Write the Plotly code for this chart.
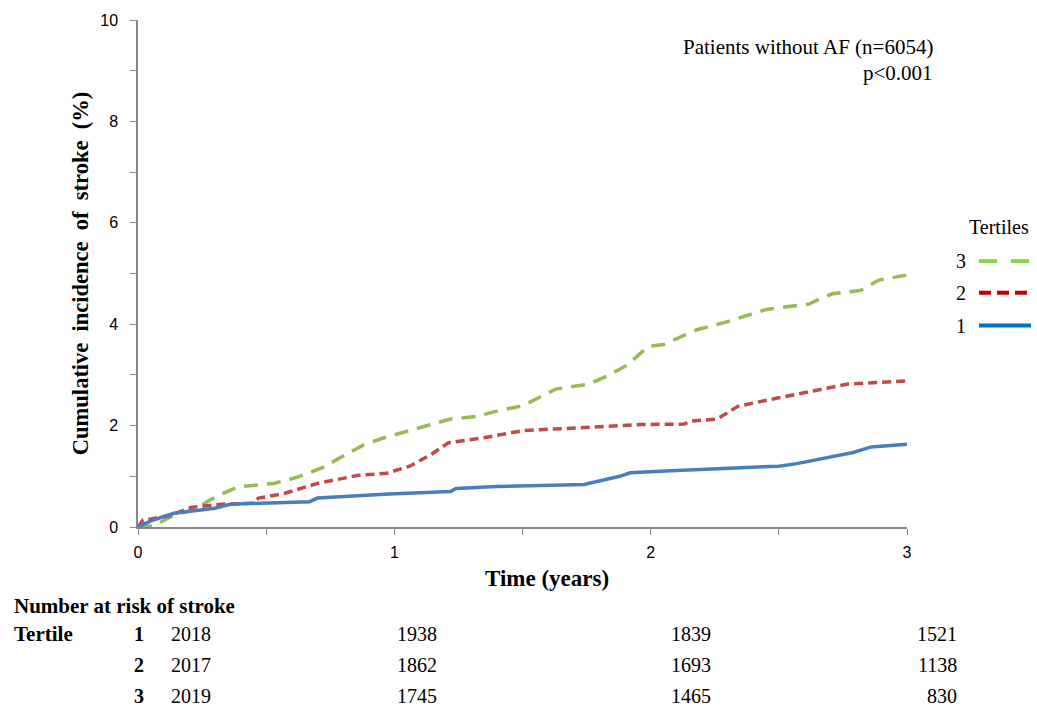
import plotly.graph_objects as go

# ---- data ----
t_t1 = [0, 0.05, 0.14, 0.3, 0.36, 0.5, 0.67, 0.70, 0.98, 1.22, 1.24, 1.4, 1.74, 1.88, 1.92, 2.08, 2.3, 2.5, 2.57, 2.69, 2.79, 2.86, 3.0]
v_t1 = [0, 0.12, 0.27, 0.37, 0.45, 0.47, 0.5, 0.57, 0.65, 0.70, 0.76, 0.80, 0.84, 1.0, 1.07, 1.11, 1.15, 1.2, 1.25, 1.37, 1.47, 1.58, 1.63]

t_t2 = [0, 0.02, 0.05, 0.12, 0.21, 0.33, 0.45, 0.47, 0.57, 0.70, 0.86, 0.97, 1.06, 1.15, 1.21, 1.35, 1.5, 1.72, 1.96, 2.13, 2.16, 2.26, 2.34, 2.5, 2.69, 2.77, 3.0]
v_t2 = [0, 0.14, 0.16, 0.22, 0.39, 0.45, 0.47, 0.57, 0.66, 0.86, 1.02, 1.06, 1.2, 1.45, 1.66, 1.76, 1.9, 1.96, 2.02, 2.03, 2.09, 2.13, 2.38, 2.55, 2.74, 2.82, 2.88]

t_t3 = [0, 0.06, 0.14, 0.23, 0.28, 0.33, 0.39, 0.53, 0.62, 0.72, 0.80, 0.88, 0.96, 1.06, 1.22, 1.32, 1.41, 1.50, 1.63, 1.76, 1.84, 1.91, 1.96, 1.99, 2.05, 2.13, 2.18, 2.30, 2.45, 2.62, 2.66, 2.71, 2.82, 2.89, 3.0]
v_t3 = [0, 0.02, 0.23, 0.37, 0.53, 0.66, 0.79, 0.86, 0.98, 1.17, 1.40, 1.62, 1.76, 1.9, 2.13, 2.18, 2.30, 2.39, 2.72, 2.82, 3.0, 3.2, 3.42, 3.56, 3.6, 3.79, 3.89, 4.05, 4.29, 4.4, 4.5, 4.6, 4.67, 4.87, 4.97]

x_ticks = [0, 0.5, 1, 1.5, 2, 2.5, 3]
x_ticktext = ["0", "", "1", "", "2", "", "3"]
y_ticks = [0, 1, 2, 3, 4, 5, 6, 7, 8, 9, 10]
y_ticktext = ["0", "", "2", "", "4", "", "6", "", "8", "", "10"]

tertile_labels = ["1", "2", "3"]
risk_counts = {
    "1": [2018, 1938, 1839, 1521],
    "2": [2017, 1862, 1693, 1138],
    "3": [2019, 1745, 1465, 830],
}

FONT = "Liberation Serif, Times New Roman, serif"
SANS = "Liberation Sans, Arial, sans-serif"
C_BLUE, C_RED, C_GREEN = "#4a7ebb", "#be4b48", "#98b954"
L_BLUE, L_RED, L_GREEN = "#0070c0", "#c00000", "#92d050"

fig = go.Figure()
fig.add_trace(go.Scatter(x=t_t3, y=v_t3, mode="lines", line=dict(color=C_GREEN, width=3.5, dash="14px,9px"), showlegend=False))
fig.add_trace(go.Scatter(x=t_t2, y=v_t2, mode="lines", line=dict(color=C_RED, width=3.5, dash="9px,5px"), showlegend=False))
fig.add_trace(go.Scatter(x=t_t1, y=v_t1, mode="lines", line=dict(color=C_BLUE, width=3.5), showlegend=False))

L, R, T, B = 138, 130, 16, 182
W, H = 1037, 709
pw, ph = W - L - R, H - T - B

def px(xp):
    return (xp - L) / pw

def py(yp):
    return (H - B - yp) / ph

def txt(x, y, text, anchor, size, bold=False):
    return dict(x=px(x), y=py(y), xref="paper", yref="paper", text=("<b>%s</b>" % text) if bold else text,
                showarrow=False, xanchor=anchor, yanchor="middle",
                font=dict(family=FONT, size=size, color="black"))

ann = []
ann.append(txt(935, 43, "Patients without AF (n=6054)", "right", 21))
ann.append(txt(935, 69, "p&lt;0.001", "right", 21))

# x-axis title (offset to the right as in the original)
ann.append(txt(547, 579, "Time (years)", "center", 23, bold=True))

# legend (manual, numbers left of lines)
ann.append(txt(999, 225, "Tertiles", "center", 20))
shapes = []
for lab, yy, col, dash in [("3", 259, L_GREEN, "18px,14px"), ("2", 291, L_RED, "12px,6px"), ("1", 324, L_BLUE, "solid")]:
    ann.append(txt(968, yy, lab, "right", 20))
    shapes.append(dict(type="line", xref="paper", yref="paper", x0=px(979), x1=px(1031), y0=py(yy), y1=py(yy),
                       line=dict(color=col, width=4, dash=dash)))

# number at risk table
ann.append(txt(12, 607, "Number at risk of stroke", "left", 21, bold=True))
ann.append(txt(12, 635, "Tertile", "left", 21, bold=True))
row_y = {"1": 635, "2": 666, "3": 697}
col_x = [213, 439, 713, 959]
for lab in tertile_labels:
    yy = row_y[lab]
    ann.append(txt(146, yy, lab, "right", 20, bold=True))
    for cx, val in zip(col_x, risk_counts[lab]):
        ann.append(txt(cx, yy, str(val), "right", 20))

fig.update_layout(
    width=W, height=H,
    margin=dict(l=L, r=R, t=T, b=B),
    paper_bgcolor="white", plot_bgcolor="white",
    font=dict(family=FONT, size=16, color="black"),
    annotations=ann, shapes=shapes,
    showlegend=False,
)
fig.update_xaxes(range=[0, 3], tickvals=x_ticks, ticktext=x_ticktext, showgrid=False, zeroline=False,
                 showline=True, linecolor="#868686", linewidth=1.5, ticks="outside", ticklen=6, tickcolor="#868686",
                 tickfont=dict(family=SANS, size=16, color="black"), ticklabelstandoff=4)
fig.update_yaxes(range=[0, 10], tickvals=y_ticks, ticktext=y_ticktext, showgrid=False, zeroline=False,
                 showline=True, linecolor="#868686", linewidth=1.5, ticks="outside", ticklen=6, tickcolor="#868686",
                 tickfont=dict(family=SANS, size=16, color="black"), ticklabelstandoff=9,
                 title=dict(text="<b>Cumulative  incidence  of  stroke  (%)</b>", font=dict(family=FONT, size=22.5, color="black"), standoff=5))

fig.write_html("out.html")
